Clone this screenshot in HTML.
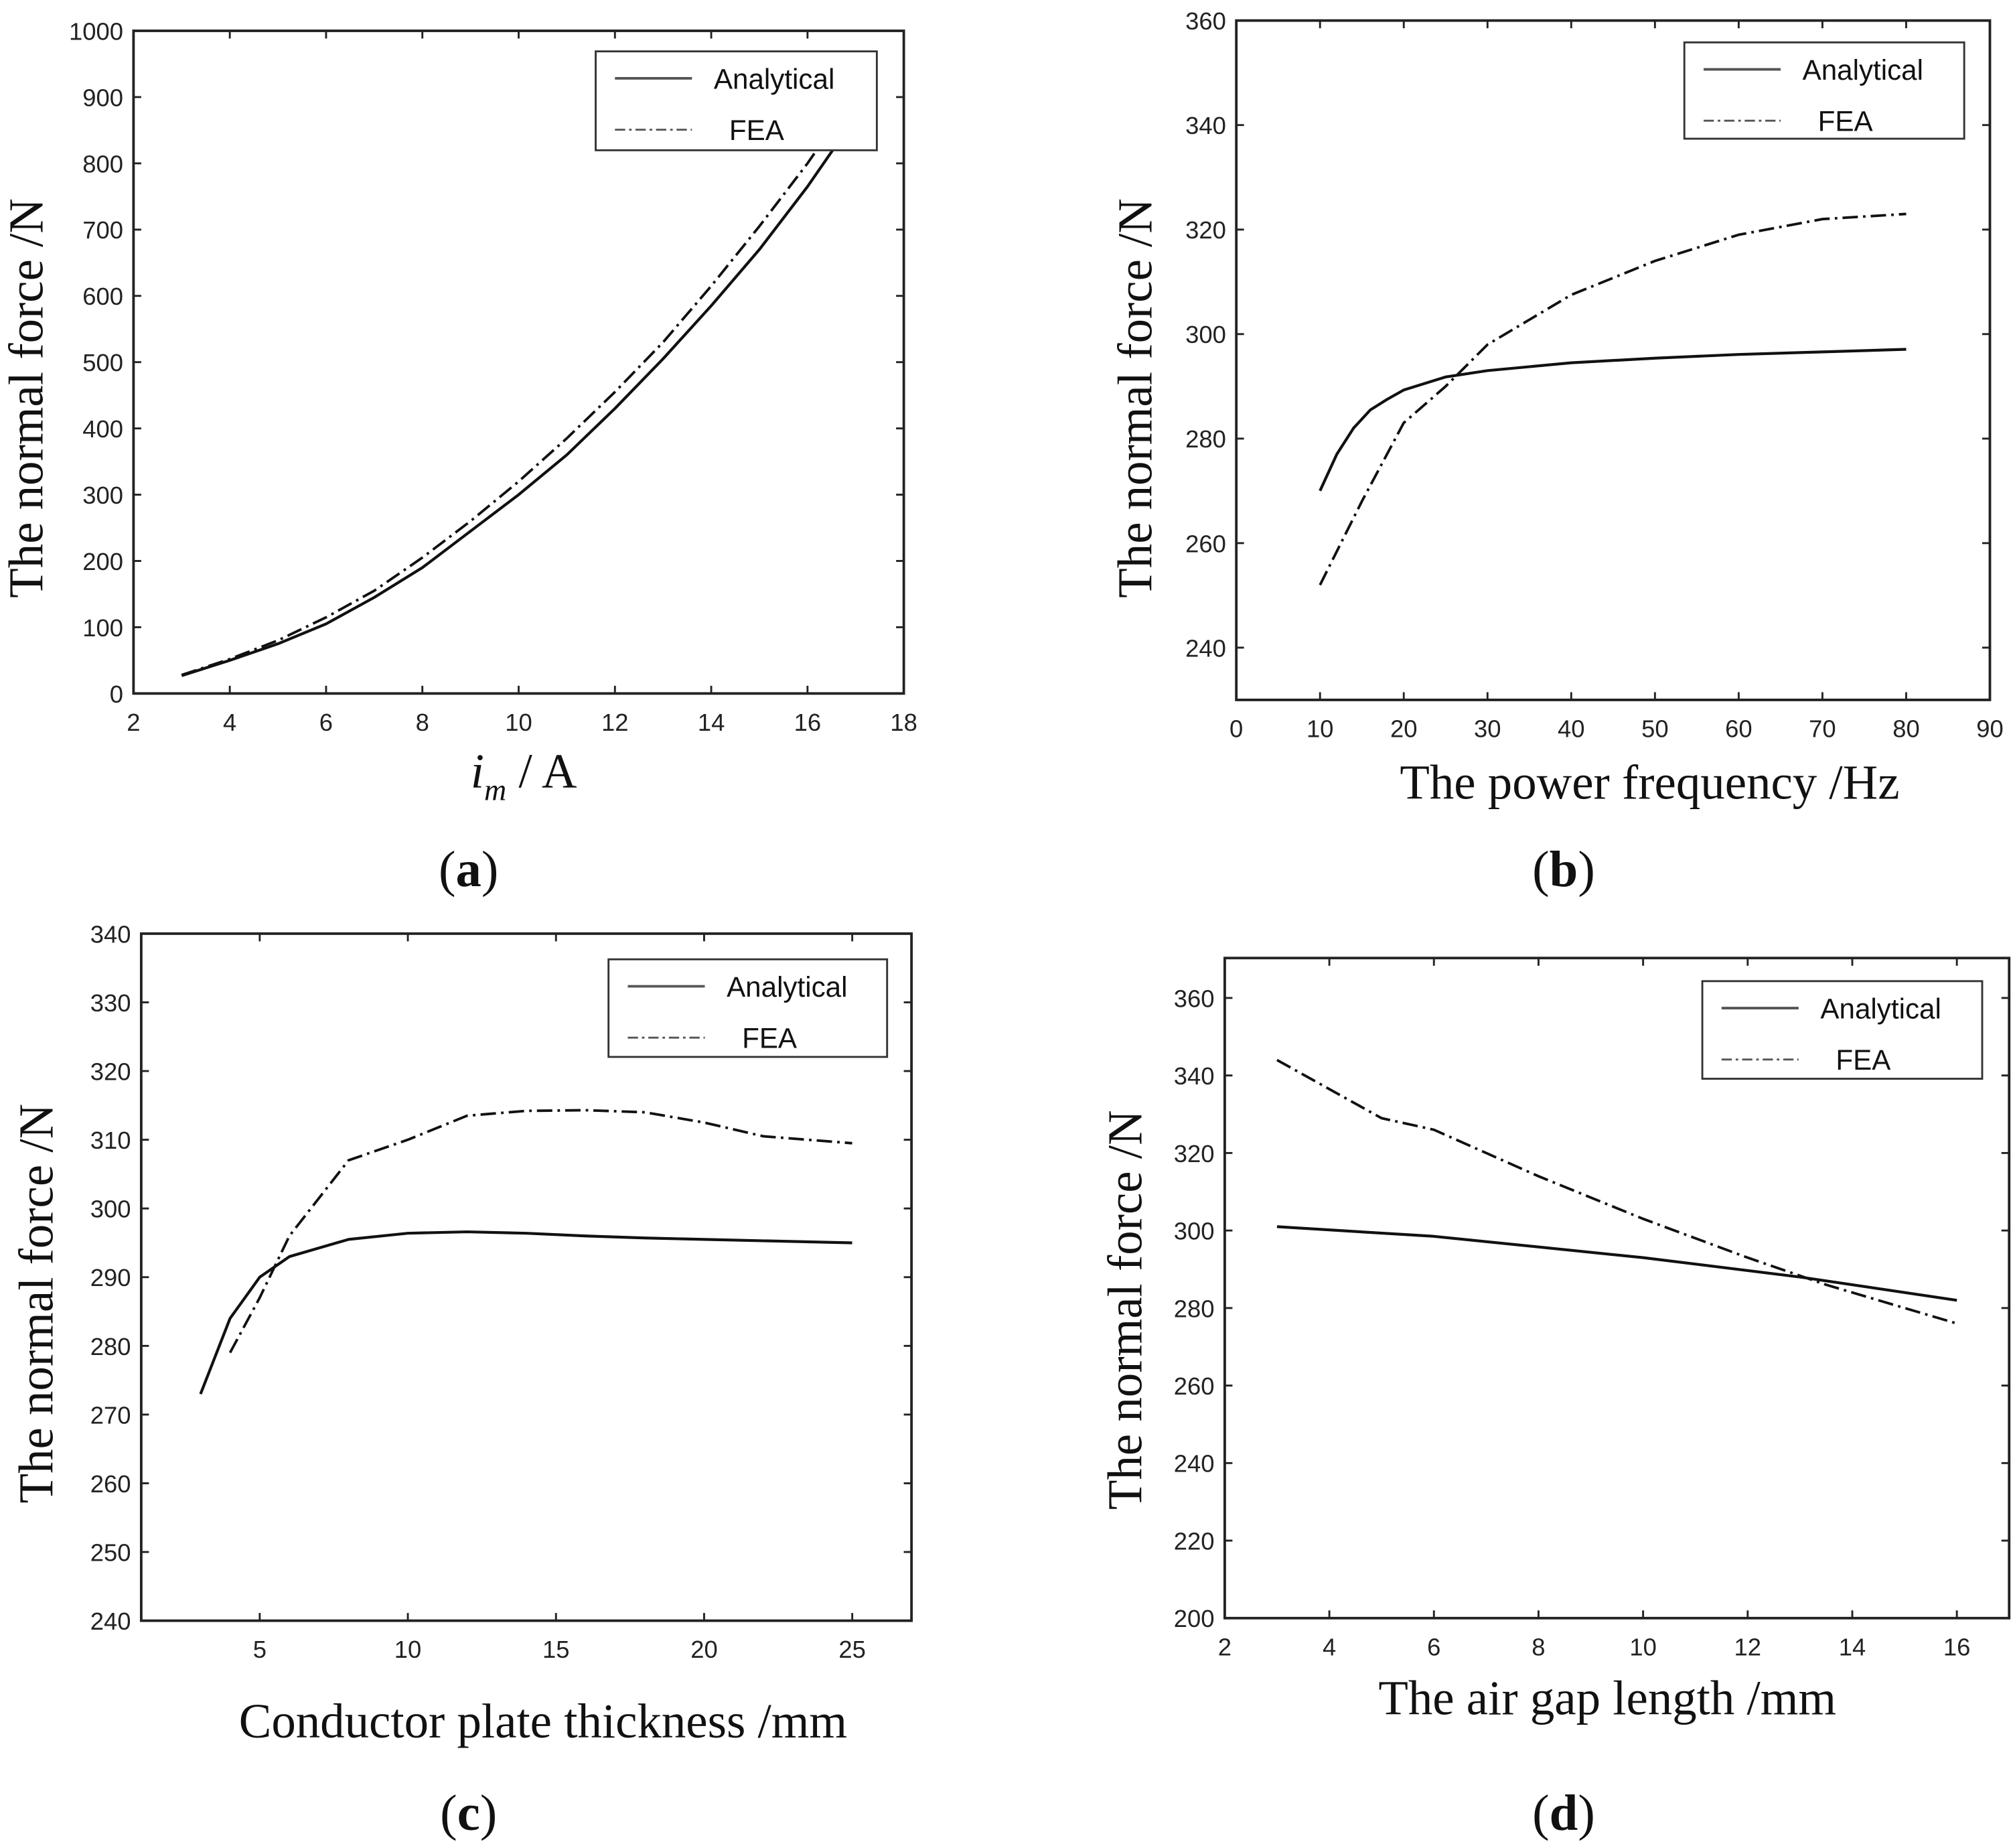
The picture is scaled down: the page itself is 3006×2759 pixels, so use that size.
<!DOCTYPE html>
<html><head><meta charset="utf-8"><style>
html,body{margin:0;padding:0;background:#fff;}
svg{display:block;}
.tk{font-family:"Liberation Sans",Arial,sans-serif;font-size:19px;fill:#222;}
.ti{font-family:"Liberation Serif",serif;font-size:38px;fill:#111;}
.lg{font-family:"Liberation Sans",sans-serif;font-size:22px;fill:#111;}
.pl{font-family:"Liberation Serif",serif;font-size:40px;fill:#111;}
</style></head><body>
<svg id="fig" width="3006" height="2759" viewBox="0 0 1568 1439" preserveAspectRatio="none" xmlns="http://www.w3.org/2000/svg"></svg>
<script>
// Panel (a)
const aX = [3,4,5,6,7,8,9,10,11,12,13,14,15,16,17];
const aAnalytical = [27,50,75,105,145,190,245,300,360,430,505,585,670,765,870];
const aFEA = [28,52,80,115,155,205,260,320,385,455,530,615,705,800,905];
const aXTicks = [2,4,6,8,10,12,14,16,18];
const aYTicks = [0,100,200,300,400,500,600,700,800,900,1000];
// Panel (b)
const bXA = [10,12,14,16,18,20,25,30,40,50,60,70,80];
const bAnalytical = [270,277,282,285.5,287.5,289.3,291.8,293,294.5,295.4,296.1,296.6,297.1];
const bXF = [10,15,20,25,30,40,50,60,70,80];
const bFEA = [252,268,283,290,298,307.5,314,319,322,323];
const bXTicks = [0,10,20,30,40,50,60,70,80,90];
const bYTicks = [240,260,280,300,320,340,360];
// Panel (c)
const cXA = [3,4,5,6,8,10,12,14,16,18,20,25];
const cAnalytical = [273,284,290,293,295.5,296.4,296.6,296.4,296,295.7,295.5,295];
const cXF = [4,5,6,8,10,12,14,16,18,20,22,25];
const cFEA = [279,287,296,307,310,313.5,314.2,314.3,314,312.5,310.5,309.5];
const cXTicks = [5,10,15,20,25];
const cYTicks = [240,250,260,270,280,290,300,310,320,330,340];
// Panel (d)
const dXA = [3,6,10,13,16];
const dAnalytical = [301,298.5,293,288,282];
const dXF = [3,5,6,8,10,12,13.5,16];
const dFEA = [344,329,326,314,303,293,286,276];
const dXTicks = [2,4,6,8,10,12,14,16];
const dYTicks = [200,220,240,260,280,300,320,340,360];

const NS="http://www.w3.org/2000/svg";
const svg=document.getElementById('fig');
function mk(tag,attrs,parent){const e=document.createElementNS(NS,tag);for(const k in attrs)e.setAttribute(k,attrs[k]);(parent||svg).appendChild(e);return e;}

function panel(p){
  const g=mk('g',{});
  
  
  const sx=v=>p.x0+(v-p.xmin)/(p.xmax-p.xmin)*(p.x1-p.x0);
  const sy=v=>p.y1-(v-p.ymin)/(p.ymax-p.ymin)*(p.y1-p.y0);
  // ticks
  p.xt.forEach(t=>{const x=sx(t);
    const l1=mk('line',{x1:x,x2:x,y1:p.y1,y2:p.y1-6,stroke:'#222','stroke-width':1.5},g);
    
    
    mk('line',{x1:x,x2:x,y1:p.y0,y2:p.y0+6,stroke:'#222','stroke-width':1.5},g);
    const tx=mk('text',{x:x,y:p.y1+29,'text-anchor':'middle',class:'tk'},g);tx.textContent=t;
    
    
  });
  p.yt.forEach(t=>{const y=sy(t);
    const l1=mk('line',{x1:p.x0,x2:p.x0+6,y1:y,y2:y,stroke:'#222','stroke-width':1.5},g);
    
    
    mk('line',{x1:p.x1,x2:p.x1-6,y1:y,y2:y,stroke:'#222','stroke-width':1.5},g);
    const tx=mk('text',{x:p.x0-8,y:y+7,'text-anchor':'end',class:'tk'},g);tx.textContent=t;
    
    
  });
  // series
  const pts=(xs,ys)=>xs.map((v,i)=>sx(v).toFixed(1)+','+sy(ys[i]).toFixed(1)).join(' ');
  const a=mk('polyline',{points:pts(p.xa,p.ya),fill:'none',stroke:'#111','stroke-width':2.2,'stroke-linejoin':'round'},g);
  
  
  const f=mk('polyline',{points:pts(p.xf,p.yf),fill:'none',stroke:'#111','stroke-width':2,'stroke-dasharray':'12,4,2,4'},g);
  
  
  // frame
  const fr=mk('rect',{x:p.x0,y:p.y0,width:p.x1-p.x0,height:p.y1-p.y0,fill:'none',stroke:'#222','stroke-width':2},g);
  
  
  // legend
  const L=p.leg;
  const lg=mk('g',{},g);
  
  
  mk('rect',{x:L[0],y:L[1],width:L[2]-L[0],height:L[3]-L[1],fill:'#fff',stroke:'#333','stroke-width':1.5},lg);
  mk('line',{x1:L[0]+15,x2:L[0]+75,y1:L[1]+21,y2:L[1]+21,stroke:'#555','stroke-width':2},lg);
  mk('line',{x1:L[0]+15,x2:L[0]+75,y1:L[1]+61,y2:L[1]+61,stroke:'#555','stroke-width':1.5,'stroke-dasharray':'8,3,2,3'},lg);
  const t1=mk('text',{x:L[0]+92,y:L[1]+29,class:'lg'},lg);t1.textContent='Analytical';
  
  
  const t2=mk('text',{x:L[0]+104,y:L[1]+69,class:'lg'},lg);t2.textContent='FEA';
  
  
  // titles
  const yt=mk('text',{x:0,y:0,'text-anchor':'middle',class:'ti',transform:`translate(${p.yl[0]},${p.yl[1]}) rotate(-90)`},g);yt.textContent='The normal force /N';
  
  
  const xt=mk('text',{x:p.xl[0],y:p.xl[1],'text-anchor':'middle',class:'ti'},g);
  if(p.xtitle==='im'){xt.innerHTML='<tspan font-style="italic">i</tspan><tspan font-style="italic" font-size="24" dy="10">m</tspan><tspan dy="-10"> / A</tspan>';}
  else xt.textContent=p.xtitle;
  
  
  const pl=mk('text',{x:p.pl[0],y:p.pl[1],'text-anchor':'middle',class:'pl'},g);
  pl.innerHTML='(<tspan font-weight="bold">'+p.id+'</tspan>)';
  
  
}
panel({id:'a',x0:104,x1:704,y0:24,y1:540,xmin:2,xmax:18,ymin:0,ymax:1000,xt:aXTicks,yt:aYTicks,xa:aX,ya:aAnalytical,xf:aX,yf:aFEA,leg:[464,40,683,117],yl:[33,310],xl:[408,613],xtitle:'im',pl:[365,690]});
panel({id:'b',x0:963,x1:1550,y0:16,y1:545,xmin:0,xmax:90,ymin:230,ymax:360,xt:bXTicks,yt:bYTicks,xa:bXA,ya:bAnalytical,xf:bXF,yf:bFEA,leg:[1312,33,1530,108],yl:[897,310],xl:[1285,622],xtitle:'The power frequency /Hz',pl:[1218,690]});
panel({id:'c',x0:110,x1:710,y0:727,y1:1262,xmin:1,xmax:27,ymin:240,ymax:340,xt:cXTicks,yt:cYTicks,xa:cXA,ya:cAnalytical,xf:cXF,yf:cFEA,leg:[474,747,691,823],yl:[41,1015],xl:[423,1353],xtitle:'Conductor plate thickness /mm',pl:[365,1425]});
panel({id:'d',x0:954,x1:1565,y0:746,y1:1260,xmin:2,xmax:17,ymin:200,ymax:370.3,xt:dXTicks,yt:dYTicks,xa:dXA,ya:dAnalytical,xf:dXF,yf:dFEA,leg:[1326,764,1544,840],yl:[889,1020],xl:[1252,1335],xtitle:'The air gap length /mm',pl:[1218,1425]});
</script>
</body></html>
